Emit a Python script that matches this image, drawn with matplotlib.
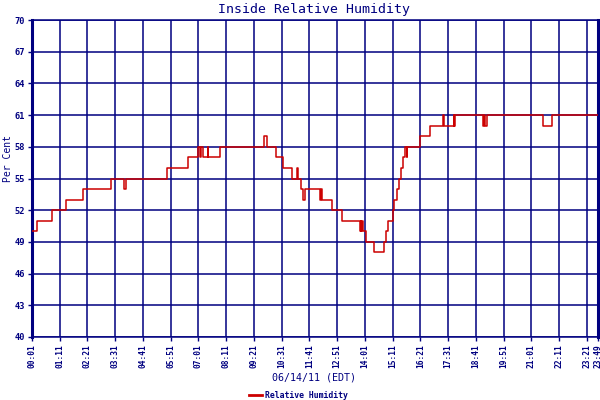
import matplotlib
matplotlib.use("Agg")
import matplotlib.pyplot as plt
from matplotlib.lines import Line2D

# readings: time of change (HH:MM) and humidity after it
times = ["00:01", "00:13", "00:51", "01:28", "02:10", "03:20", "03:54", "03:57",
         "05:41", "06:35", "07:00", "07:05", "07:07", "07:12", "07:24", "07:26",
         "07:55", "09:47", "09:54", "10:16", "10:35", "10:58", "11:09", "11:13",
         "11:19", "11:25", "11:30", "12:07", "12:09", "12:13", "12:37", "13:02",
         "13:48", "13:50", "13:52", "13:54", "13:56", "14:03", "14:24", "14:49",
         "14:54", "15:00", "15:11", "15:14", "15:21", "15:26", "15:31", "15:36",
         "15:43", "15:46", "15:48", "16:21", "16:46", "17:18", "17:21", "17:45",
         "17:46", "17:48", "18:58", "19:01", "19:04", "19:09", "21:31", "21:52",
         "23:49"]
humidity = [50, 51, 52, 53, 54, 55, 54, 55,
            56, 57, 58, 57, 58, 57, 58, 57,
            58, 59, 58, 57, 56, 55, 56, 55,
            54, 53, 54, 53, 54, 53, 52, 51,
            50, 51, 50, 51, 50, 49, 48, 49,
            50, 51, 52, 53, 54, 55, 56, 57,
            58, 57, 58, 59, 60, 61, 60, 61,
            60, 61, 60, 61, 60, 61, 60, 61,
            61]

xtick_labels = ["00:01", "01:11", "02:21", "03:31", "04:41", "05:51", "07:01",
                "08:11", "09:21", "10:31", "11:41", "12:51", "14:01", "15:11",
                "16:21", "17:31", "18:41", "19:51", "21:01", "22:11", "23:21",
                "23:49"]
yticks = [40, 43, 46, 49, 52, 55, 58, 61, 64, 67, 70]


def to_min(s):
    h, m = s.split(":")
    return int(h) * 60 + int(m)


t = [to_min(s) for s in times]
xt = [to_min(s) for s in xtick_labels]

navy = "#000080"
red = "#cc0000"
mono = "DejaVu Sans Mono"

fig = plt.figure(figsize=(6, 4), dpi=100)
ax = fig.add_axes([32 / 600, 63 / 400, 566 / 600, 317 / 400])

ax.plot(t, humidity, drawstyle="steps-post", color=red, lw=1.1, zorder=3)

ax.set_xlim(xt[0], xt[-1])
ax.set_ylim(40, 70)
ax.set_xticks(xt)
ax.set_xticklabels(xtick_labels, rotation=90, fontsize=5.7, fontweight="bold",
                   family=mono, color=navy)
ax.set_yticks(yticks)
ax.set_yticklabels([str(v) for v in yticks], fontsize=6.2, fontweight="bold",
                   family=mono, color=navy)
ax.tick_params(colors=navy, length=3, width=1, pad=2)
ax.grid(True, color=navy, lw=1.1)
ax.set_axisbelow(True)

for side in ["top", "bottom"]:
    ax.spines[side].set_color(navy)
    ax.spines[side].set_linewidth(1.1)
for side in ["left", "right"]:
    ax.spines[side].set_color(navy)
    ax.spines[side].set_linewidth(2.2)

fig.text(314 / 600, 1 - 9 / 400, "Inside Relative Humidity", ha="center", va="center",
         fontsize=9.5, family=mono, color=navy)
fig.text(314 / 600, 1 - 378 / 400, "06/14/11 (EDT)", ha="center", va="center",
         fontsize=7.2, family=mono, color=navy)
fig.text(8 / 600, 1 - 158 / 400, "Per Cent", ha="center", va="center", rotation=90,
         fontsize=7, family=mono, color=navy)

# legend
fig.add_artist(Line2D([249 / 600, 262 / 600], [1 - 395 / 400, 1 - 395 / 400],
                      color=red, lw=2, transform=fig.transFigure))
fig.text(265 / 600, 1 - 395 / 400, "Relative Humidity", ha="left", va="center",
         fontsize=5.9, fontweight="bold", family=mono, color=navy)

fig.savefig("out.png", dpi=100, facecolor="white")
